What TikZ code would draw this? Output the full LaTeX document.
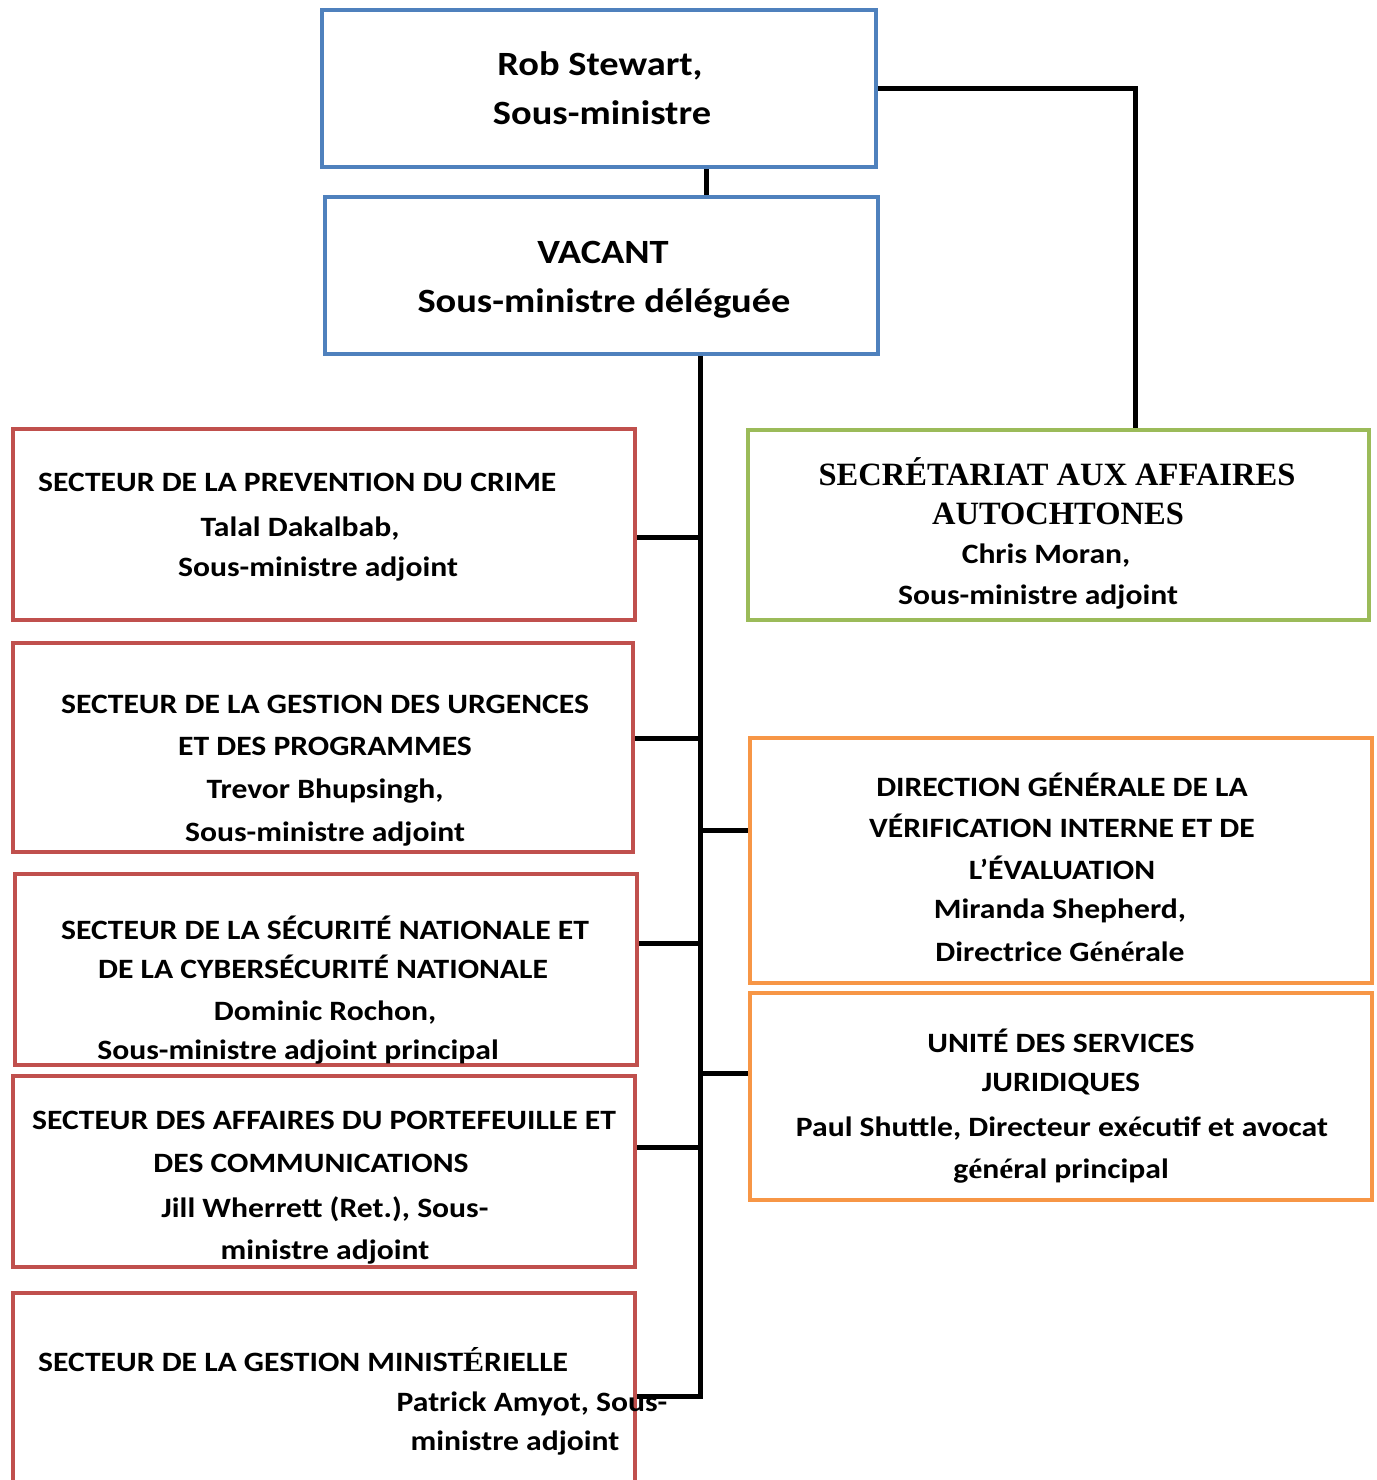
\documentclass[tikz,border=0pt]{standalone}
\usepackage{fontspec}
\setmainfont{Carlito}
\newfontfamily\tms{Liberation Serif}
\usetikzlibrary{calc}
\definecolor{bluebox}{HTML}{4F81BD}
\definecolor{redbox}{HTML}{C0504D}
\definecolor{greenbox}{HTML}{9BBB59}
\definecolor{orangebox}{HTML}{F79646}
\newcommand{\hs}[1]{\scalebox{1.13}[1]{#1}}
\newcommand{\tline}[4]{\node[txt] (#1) at (#2,#3) {\hs{#4}};}
\newcommand{\lline}[4]{\node[txt,anchor=base west] (#1) at (#2,#3) {\hs{#4}};}
\begin{document}
\begin{tikzpicture}[x=1pt,y=-1pt,
  box/.style={draw,line width=4pt,fill=white,inner sep=0pt},
  bluebx/.style={box,draw=bluebox},
  redbx/.style={box,draw=redbox},
  greenbx/.style={box,draw=greenbox},
  orangebx/.style={box,draw=orangebox},
  link/.style={line width=5pt,black},
  txt/.style={anchor=base,inner sep=0pt,font=\bfseries\fontsize{28}{30}\selectfont},
  big/.style={txt,font=\bfseries\fontsize{34}{36}\selectfont},
  serif/.style={txt,font=\tms\bfseries\fontsize{32.5}{35}\selectfont}]
\useasboundingbox[fill=white] (0,0) rectangle (1376,1480);
% boxes
\node[bluebx,minimum width=554pt,minimum height=157pt] (rob) at (599,88.5) {};
\node[bluebx,minimum width=553pt,minimum height=157pt] (vac) at (601.5,275.5) {};
\node[redbx,minimum width=622pt,minimum height=191pt] (r1) at (324,524.5) {};
\node[redbx,minimum width=620pt,minimum height=209pt] (r2) at (323,747.5) {};
\node[redbx,minimum width=622pt,minimum height=191pt] (r3) at (326,969.5) {};
\node[redbx,minimum width=622pt,minimum height=191pt] (r4) at (324,1171.5) {};
\node[redbx,minimum width=622pt,minimum height=207pt] (r5) at (324,1396.5) {};
\node[greenbx,minimum width=621pt,minimum height=190pt] (grn) at (1058.5,525) {};
\node[orangebx,minimum width=622pt,minimum height=245pt] (o1) at (1061,860.5) {};
\node[orangebx,minimum width=622pt,minimum height=207pt] (o2) at (1061,1096.5) {};
% connectors
\coordinate (rv1) at ($(rob.south)+(107,0)$);
\draw[link] (rv1) -- (rv1 |- vac.north);
\coordinate (g1) at ($(grn.north)+(76.5,0)$);
\draw[link] (rob.east) -| (g1);
\coordinate (trunk) at ($(vac.south)+(98.5,0)$);
\draw[link] (trunk) |- (r5.east);
\coordinate (b1) at ($(r1.east)+(0,12.5)$);
\coordinate (b2) at ($(r2.east)+(0,-9.5)$);
\coordinate (b3) at ($(r3.east)+(0,-26.5)$);
\coordinate (b4) at ($(r4.east)+(0,-24.5)$);
\coordinate (b5) at ($(o1.west)+(0,-30.5)$);
\coordinate (b6) at ($(o2.west)+(0,-23.5)$);
\draw[link] (b1) -- (b1 -| trunk);
\draw[link] (b2) -- (b2 -| trunk);
\draw[link] (b3) -- (b3 -| trunk);
\draw[link] (b4) -- (b4 -| trunk);
\draw[link] (b5 -| trunk) -- (b5);
\draw[link] (b6 -| trunk) -- (b6);
% texts
\node[big] (ta1) at (600,75) {\hs{Rob Stewart,}};
\node[big] (ta2) at (602,124) {\hs{Sous-ministre}};
\node[big] (tb1) at (603,263) {\hs{VACANT}};
\node[big] (tb2) at (604,312) {\hs{Sous-ministre déléguée}};
\lline{tr11}{38}{491}{SECTEUR DE LA PREVENTION DU CRIME}
\tline{tr12}{300}{536}{Talal Dakalbab,}
\tline{tr13}{318}{576}{Sous-ministre adjoint}
\tline{tr21}{325}{713}{SECTEUR DE LA GESTION DES URGENCES}
\tline{tr22}{325}{755}{ET DES PROGRAMMES}
\tline{tr23}{325}{798}{Trevor Bhupsingh,}
\tline{tr24}{325}{841}{Sous-ministre adjoint}
\tline{tr31}{325}{939}{SECTEUR DE LA SÉCURITÉ NATIONALE ET}
\tline{tr32}{323}{978}{DE LA CYBERSÉCURITÉ NATIONALE}
\tline{tr33}{325}{1020}{Dominic Rochon,}
\tline{tr34}{298}{1059}{Sous-ministre adjoint principal}
\tline{tr41}{324}{1129}{SECTEUR DES AFFAIRES DU PORTEFEUILLE ET}
\tline{tr42}{311}{1172}{DES COMMUNICATIONS}
\tline{tr43}{325}{1217}{Jill Wherrett (Ret.), Sous-}
\tline{tr44}{325}{1259}{ministre adjoint}
\lline{tr51}{38}{1371}{SECTEUR DE LA GESTION MINIST{\tms É}RIELLE}
\tline{tr52}{532}{1411}{Patrick Amyot, Sous-}
\tline{tr53}{515}{1450}{ministre adjoint}
\node[serif] (tg1) at (1057,485) {SECRÉTARIAT AUX AFFAIRES};
\node[serif] (tg2) at (1058,524) {AUTOCHTONES};
\tline{tg3}{1046}{563}{Chris Moran,}
\tline{tg4}{1038}{604}{Sous-ministre adjoint}
\tline{to11}{1062}{796}{DIRECTION GÉNÉRALE DE LA}
\tline{to12}{1062}{837}{VÉRIFICATION INTERNE ET DE}
\tline{to13}{1062}{879}{L’ÉVALUATION}
\tline{to14}{1060}{918}{Miranda Shepherd,}
\tline{to15}{1060}{961}{Directrice G{\tms é}n{\tms é}rale}
\tline{to21}{1061}{1052}{UNITÉ DES SERVICES}
\tline{to22}{1061}{1091}{JURIDIQUES}
\tline{to23}{1062}{1136}{Paul Shuttle, Directeur ex{\tms é}cutif et avocat}
\tline{to24}{1061}{1178}{g{\tms é}n{\tms é}ral principal}
\end{tikzpicture}
\end{document}
